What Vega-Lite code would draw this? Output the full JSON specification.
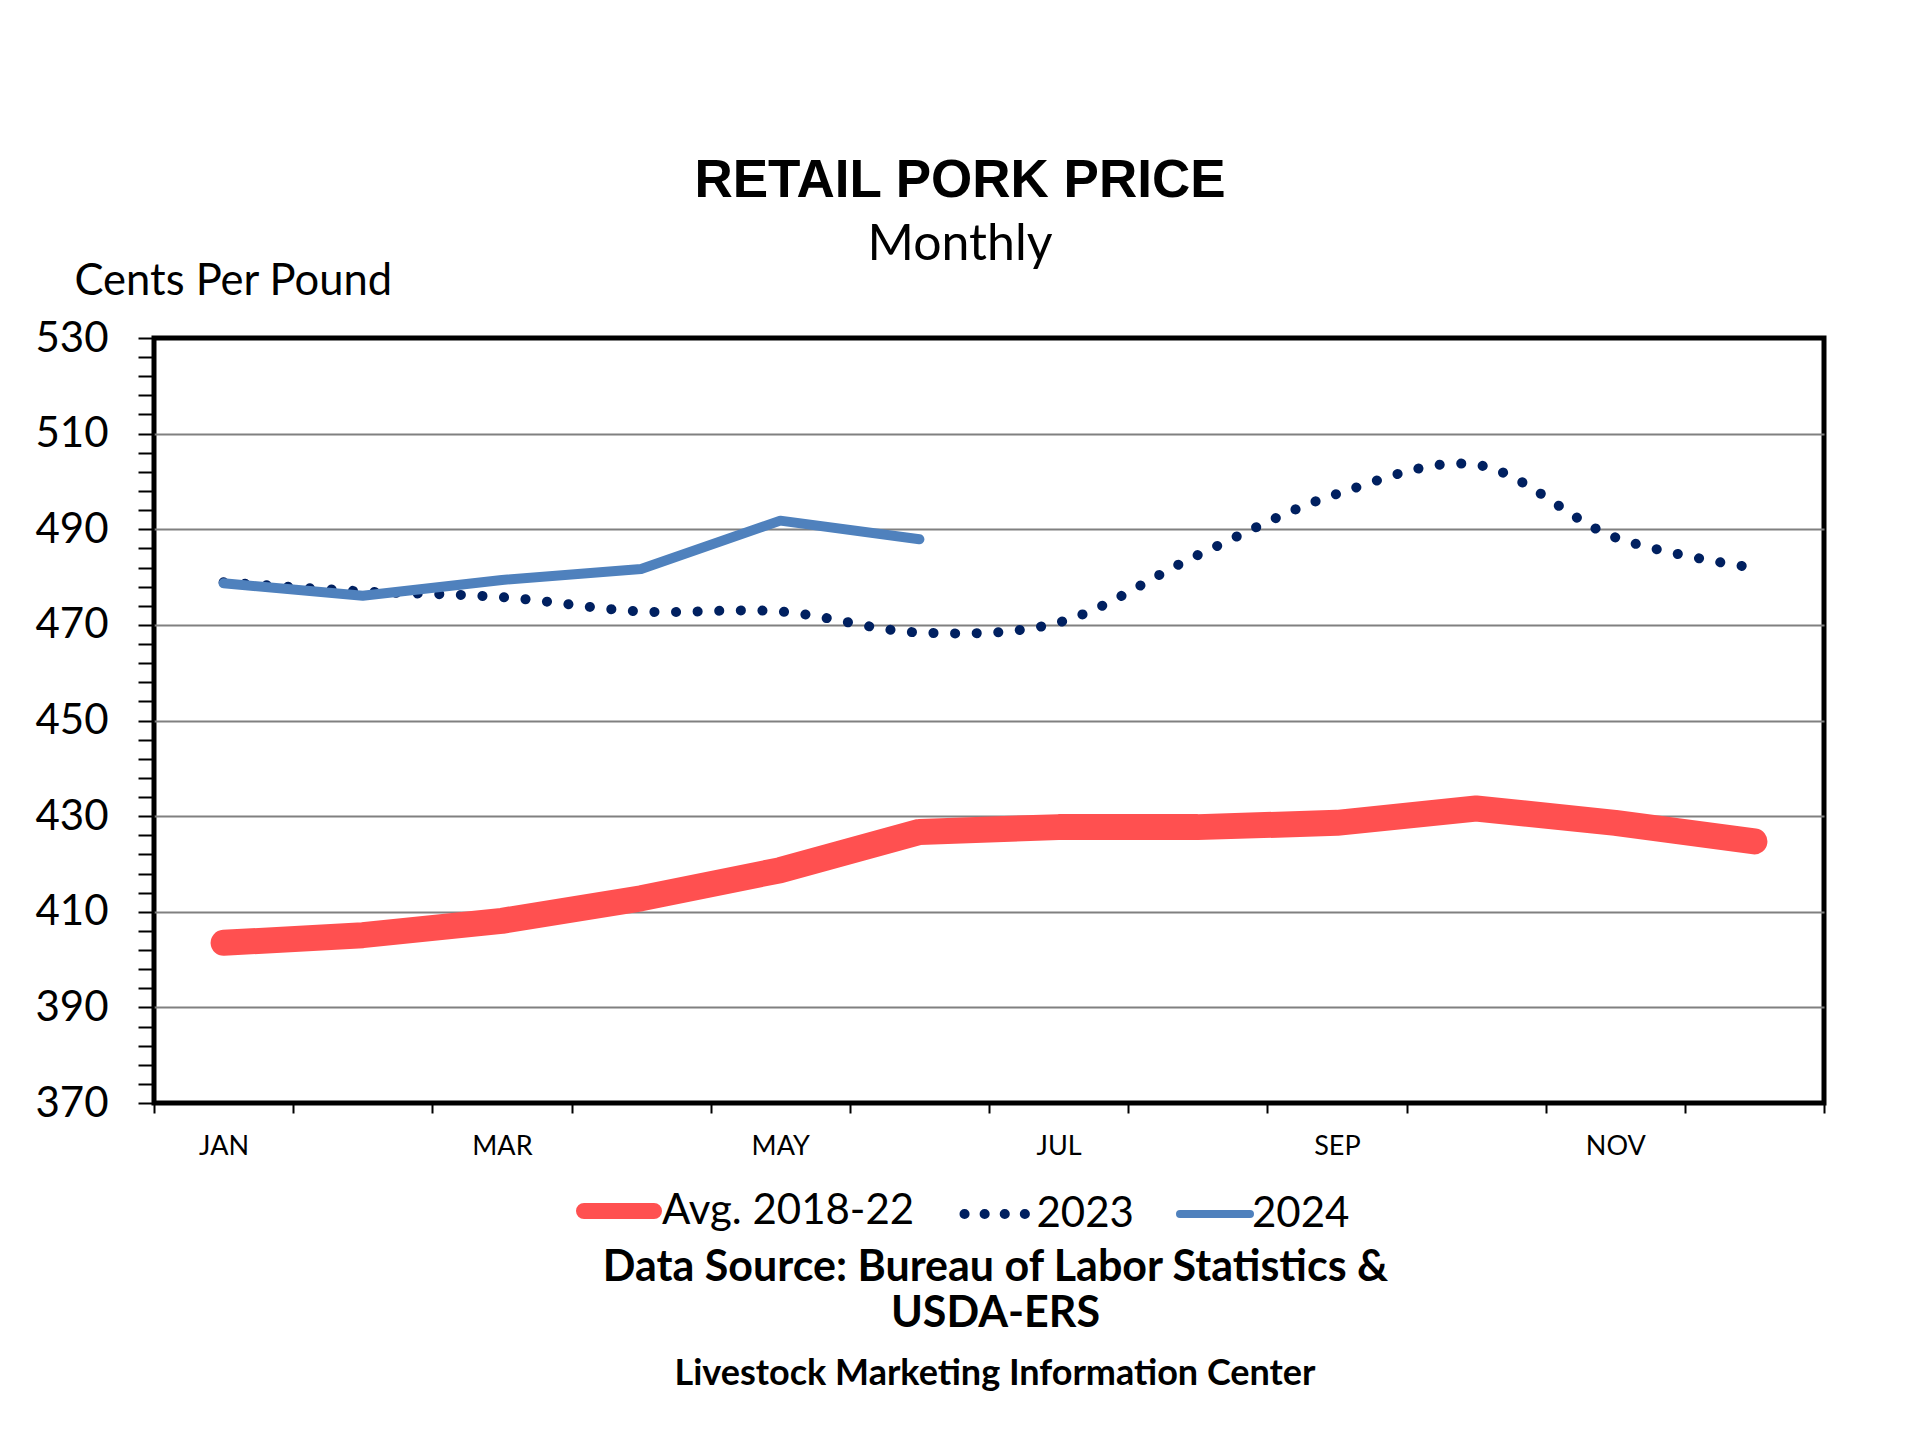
{
  "$schema": "https://vega.github.io/schema/vega-lite/v6.json",
  "description": "Retail pork price, monthly, cents per pound.",
  "width": 1670,
  "height": 765,
  "autosize": "none",
  "padding": {"left": 154, "top": 338, "right": 96, "bottom": 337},
  "background": "white",
  "config": {
    "font": "Lato",
    "view": {"stroke": "black", "strokeWidth": 5}
  },
  "title": {
    "text": "RETAIL PORK PRICE",
    "subtitle": "Monthly",
    "font": "Liberation Sans",
    "fontSize": 53,
    "fontWeight": "bold",
    "color": "black",
    "subtitleFont": "Lato",
    "subtitleFontSize": 50,
    "subtitleColor": "black",
    "subtitlePadding": 12,
    "anchor": "middle",
    "frame": "group",
    "dx": -29,
    "offset": -11
  },
  "data": {
    "values": [
      {"month": "JAN", "series": "Avg. 2018-22", "price": 403.5},
      {"month": "FEB", "series": "Avg. 2018-22", "price": 405.1},
      {"month": "MAR", "series": "Avg. 2018-22", "price": 408.1},
      {"month": "APR", "series": "Avg. 2018-22", "price": 412.8},
      {"month": "MAY", "series": "Avg. 2018-22", "price": 418.7},
      {"month": "JUN", "series": "Avg. 2018-22", "price": 426.7},
      {"month": "JUL", "series": "Avg. 2018-22", "price": 427.7},
      {"month": "AUG", "series": "Avg. 2018-22", "price": 427.7},
      {"month": "SEP", "series": "Avg. 2018-22", "price": 428.6},
      {"month": "OCT", "series": "Avg. 2018-22", "price": 431.6},
      {"month": "NOV", "series": "Avg. 2018-22", "price": 428.6},
      {"month": "DEC", "series": "Avg. 2018-22", "price": 424.7},
      {"month": "JAN", "series": "2023", "price": 478.9},
      {"month": "FEB", "series": "2023", "price": 477.0},
      {"month": "MAR", "series": "2023", "price": 475.8},
      {"month": "APR", "series": "2023", "price": 472.8},
      {"month": "MAY", "series": "2023", "price": 472.8},
      {"month": "JUN", "series": "2023", "price": 468.4},
      {"month": "JUL", "series": "2023", "price": 470.5},
      {"month": "AUG", "series": "2023", "price": 484.6},
      {"month": "SEP", "series": "2023", "price": 497.4},
      {"month": "OCT", "series": "2023", "price": 503.5},
      {"month": "NOV", "series": "2023", "price": 488.3},
      {"month": "DEC", "series": "2023", "price": 481.9},
      {"month": "JAN", "series": "2024", "price": 478.7},
      {"month": "FEB", "series": "2024", "price": 476.1},
      {"month": "MAR", "series": "2024", "price": 479.4},
      {"month": "APR", "series": "2024", "price": 481.7},
      {"month": "MAY", "series": "2024", "price": 491.8},
      {"month": "JUN", "series": "2024", "price": 487.9}
    ]
  },
  "encoding": {
    "x": {
      "field": "month",
      "type": "ordinal",
      "sort": ["JAN", "FEB", "MAR", "APR", "MAY", "JUN", "JUL", "AUG", "SEP", "OCT", "NOV", "DEC"],
      "scale": {"type": "band", "paddingInner": 0, "paddingOuter": 0},
      "bandPosition": 0.5,
      "axis": {
        "title": ["Data Source: Bureau of Labor Statistics &", "USDA-ERS"],
        "titleFont": "Lato",
        "titleFontSize": 43,
        "titleFontWeight": "bold",
        "titleLineHeight": 46,
        "titleColor": "black",
        "titleX": 841,
        "titleY": 143,
        "titleAlign": "center",
        "titleBaseline": "top",
        "labelExpr": "indexof(['JAN','MAR','MAY','JUL','SEP','NOV'], datum.value) >= 0 ? datum.label : ''",
        "labelFontSize": 27,
        "labelColor": "black",
        "labelPadding": 20,
        "labelAngle": 0,
        "tickBand": "extent",
        "tickSize": 10,
        "tickWidth": 2,
        "tickColor": "black",
        "domain": false,
        "grid": false
      }
    },
    "y": {
      "field": "price",
      "type": "quantitative",
      "scale": {"domain": [370, 530], "nice": false, "zero": false},
      "axis": {
        "values": [370, 374, 378, 382, 386, 390, 394, 398, 402, 406, 410, 414, 418, 422, 426, 430, 434, 438, 442, 446, 450, 454, 458, 462, 466, 470, 474, 478, 482, 486, 490, 494, 498, 502, 506, 510, 514, 518, 522, 526, 530],
        "title": "Cents Per Pound",
        "titleAngle": 0,
        "titleX": -80,
        "titleY": -57,
        "titleAlign": "left",
        "titleBaseline": "middle",
        "titleFontSize": 43.5,
        "titleFontWeight": "normal",
        "titleColor": "black",
        "labelExpr": "(datum.value - 370) % 20 === 0 ? datum.label : ''",
        "labelOverlap": false,
        "labelFontSize": 42,
        "labelColor": "black",
        "labelPadding": 30,
        "tickSize": 16,
        "tickWidth": 2,
        "tickColor": "black",
        "domain": false,
        "grid": true,
        "gridColor": "#808080",
        "gridWidth": 2,
        "gridOpacity": {
          "condition": {"test": "(datum.value - 370) % 20 === 0 && datum.value > 370 && datum.value < 530", "value": 1},
          "value": 0
        }
      }
    },
    "color": {
      "field": "series",
      "type": "nominal",
      "scale": {
        "domain": ["Avg. 2018-22", "2023", "2024"],
        "range": ["#FF5050", "#002060", "#4F81BD"]
      },
      "legend": {
        "title": "Livestock Marketing Information Center",
        "orient": "none",
        "legendX": 422,
        "legendY": 846,
        "direction": "horizontal",
        "titleOrient": "bottom",
        "titleAnchor": "middle",
        "titleFont": "Lato",
        "titleFontSize": 36,
        "titleFontWeight": "bold",
        "titleColor": "black",
        "titleLimit": 2000,
        "titlePadding": 114,
        "labelFontSize": 42,
        "labelColor": "black",
        "labelLimit": 0,
        "symbolType": "stroke",
        "symbolSize": 4900,
        "columnPadding": 29.5,
        "encode": {
          "title": {"update": {"dx": {"value": 32}}},
          "symbols": {
            "update": {
              "x": {"signal": "datum.value === 'Avg. 2018-22' ? 43 : 39"},
              "y": {"signal": "datum.value === 'Avg. 2018-22' ? 27 : 22"},
              "strokeWidth": {"signal": "datum.value === 'Avg. 2018-22' ? 16 : datum.value === '2023' ? 10 : 8"},
              "strokeDash": {"signal": "datum.value === '2023' ? [0.1, 20] : [1, 0]"},
              "strokeCap": {"value": "round"}
            }
          },
          "labels": {
            "update": {
              "x": {"signal": "datum.value === 'Avg. 2018-22' ? 86 : 76"},
              "y": {"signal": "datum.value === 'Avg. 2018-22' ? 27 : 22"},
              "baseline": {"value": "middle"}
            }
          }
        }
      }
    }
  },
  "layer": [
    {
      "transform": [{"filter": "datum.series === 'Avg. 2018-22'"}],
      "mark": {"type": "line", "strokeWidth": 26, "strokeCap": "round", "strokeJoin": "round"}
    },
    {
      "transform": [{"filter": "datum.series === '2023'"}],
      "mark": {"type": "line", "strokeWidth": 10, "strokeCap": "round", "strokeDash": [0.1, 21.5], "interpolate": "catmull-rom"}
    },
    {
      "transform": [{"filter": "datum.series === '2024'"}],
      "mark": {"type": "line", "strokeWidth": 10, "strokeCap": "round", "strokeJoin": "round"}
    }
  ]
}
